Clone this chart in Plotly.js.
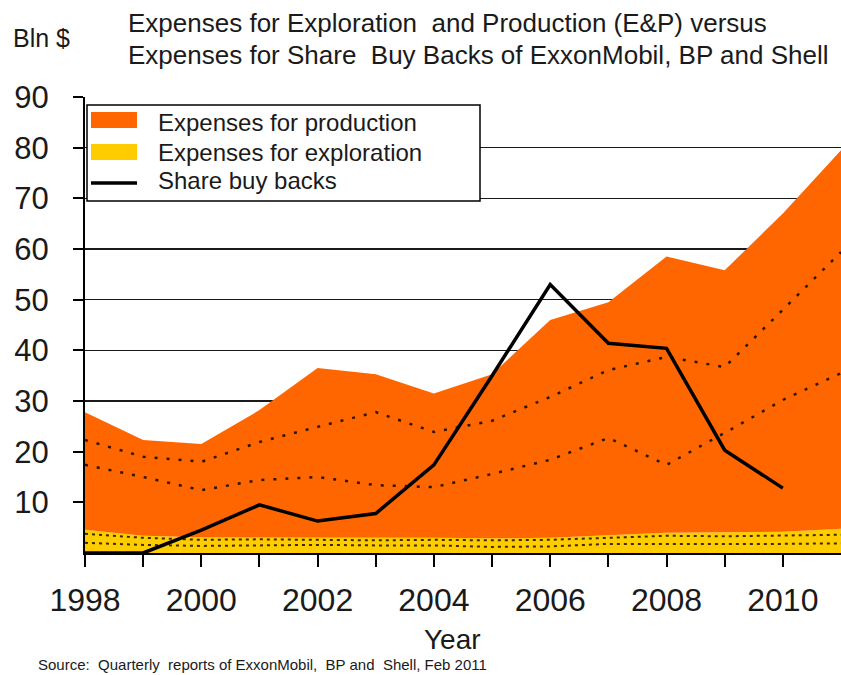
<!DOCTYPE html>
<html>
<head>
<meta charset="utf-8">
<script src="https://cdn.plot.ly/plotly-3.0.1.min.js"></script>
<style>
  html, body { margin: 0; padding: 0; background: #fff; }
  #chart { width: 841px; height: 675px; }
</style>
</head>
<body>
<div id="chart"></div>
<script>
// Expenses for E&P vs share buy backs (ExxonMobil, BP, Shell), Bln $
const years = [1998, 1999, 2000, 2001, 2002, 2003, 2004, 2005, 2006, 2007, 2008, 2009, 2010, 2011];
const exploration = [4.6, 3.4, 3.1, 3.1, 3.0, 3.0, 3.0, 2.9, 3.0, 3.5, 4.0, 4.1, 4.2, 4.8];
const production = [23.2, 18.9, 18.4, 25.1, 33.5, 32.3, 28.5, 32.4, 43.0, 46.0, 54.5, 51.7, 62.8, 74.7];

// dotted company lines inside the production area (stacked levels)
const prodLineUpper = [22.3, 19.0, 18.0, 21.9, 24.9, 27.8, 23.9, 26.1, 30.8, 36.1, 38.7, 36.7, 48.0, 59.4];
const prodLineLower = [17.4, 15.0, 12.4, 14.4, 15.0, 13.4, 13.0, 15.6, 18.4, 22.7, 17.4, 23.7, 30.2, 35.5];
// dotted company lines inside the exploration band
const explLineUpper = [3.8, 3.0, 2.6, 2.7, 2.6, 2.5, 2.6, 2.5, 2.6, 3.0, 3.4, 3.3, 3.5, 3.6];
const explLineLower = [2.0, 1.6, 1.4, 1.5, 1.6, 1.5, 1.5, 1.2, 1.3, 1.8, 1.8, 1.7, 1.8, 1.9];

const buybackYears = [1998, 1999, 2000, 2001, 2002, 2003, 2004, 2005, 2006, 2007, 2008, 2009, 2010];
const buybacks = [0, 0, 4.5, 9.5, 6.3, 7.8, 17.4, 35.0, 53.0, 41.4, 40.4, 20.3, 12.8];

const yTicks = [10, 20, 30, 40, 50, 60, 70, 80, 90];
const xTickLabels = years.slice(0, 13).map(y => (y % 2 === 0 ? String(y) : ""));

const legendLabels = ["Expenses for production", "Expenses for exploration", "Share buy backs"];

const ORANGE = "#FF6600";
const YELLOW = "#FFCC00";
const FONT = "Arial, 'Liberation Sans', sans-serif";
const INK = "#1a1a1a";

// pixel helpers for the hand-made legend box (plot area 85..841 x 97..553)
const px = x => (x - 85) / 756;
const py = y => (553 - y) / 456;

const traces = [
  {
    x: years, y: exploration, type: "scatter", mode: "lines",
    stackgroup: "ep", fillcolor: YELLOW, line: { width: 0, color: YELLOW },
    name: legendLabels[1], showlegend: false
  },
  {
    x: years, y: production, type: "scatter", mode: "lines",
    stackgroup: "ep", fillcolor: ORANGE, line: { width: 0, color: ORANGE },
    name: legendLabels[0], showlegend: false
  },
  {
    x: years, y: prodLineUpper, type: "scatter", mode: "lines",
    line: { color: "#2b1400", width: 2.5, dash: "3px,9px" }, showlegend: false
  },
  {
    x: years, y: prodLineLower, type: "scatter", mode: "lines",
    line: { color: "#2b1400", width: 2.5, dash: "3px,9px" }, showlegend: false
  },
  {
    x: years, y: explLineUpper, type: "scatter", mode: "lines",
    line: { color: "#3a2a00", width: 2, dash: "3px,4px" }, showlegend: false
  },
  {
    x: years, y: explLineLower, type: "scatter", mode: "lines",
    line: { color: "#3a2a00", width: 2, dash: "3px,4px" }, showlegend: false
  },
  {
    x: buybackYears, y: buybacks, type: "scatter", mode: "lines",
    line: { color: "#000", width: 3.5 },
    name: legendLabels[2], showlegend: false
  }
];

const layout = {
  width: 841,
  height: 675,
  margin: { l: 85, r: 0, t: 97, b: 122 },
  paper_bgcolor: "#fff",
  plot_bgcolor: "#fff",
  font: { family: FONT, color: INK },
  showlegend: false,
  xaxis: {
    range: [1998, 2011],
    tickvals: years.slice(0, 13),
    ticktext: xTickLabels,
    ticks: "outside", ticklen: 12, tickwidth: 2, tickcolor: "#000",
    ticklabelstandoff: 6,
    tickfont: { family: FONT, size: 32, color: INK },
    showline: true, linecolor: "#000", linewidth: 2,
    showgrid: false, zeroline: false
  },
  yaxis: {
    range: [0, 90],
    tickvals: yTicks,
    ticks: "outside", ticklen: 10, tickwidth: 2, tickcolor: "#000",
    ticklabelstandoff: 18,
    tickfont: { family: FONT, size: 31, color: INK },
    showline: true, linecolor: "#000", linewidth: 2,
    showgrid: true, gridcolor: "#1a1a1a", gridwidth: 1.5,
    zeroline: false
  },
  shapes: [
    { type: "rect", xref: "paper", yref: "paper", layer: "above",
      x0: px(87), x1: px(480), y0: py(201), y1: py(105),
      fillcolor: "#fff", line: { color: "#000", width: 1.5 } },
    { type: "rect", xref: "paper", yref: "paper", layer: "above",
      x0: px(91), x1: px(137), y0: py(128), y1: py(112),
      fillcolor: ORANGE, line: { width: 0 } },
    { type: "rect", xref: "paper", yref: "paper", layer: "above",
      x0: px(91), x1: px(137), y0: py(160), y1: py(144),
      fillcolor: YELLOW, line: { width: 0 } },
    { type: "line", xref: "paper", yref: "paper", layer: "above",
      x0: px(91), x1: px(137), y0: py(183), y1: py(183),
      line: { color: "#000", width: 3.5 } }
  ],
  annotations: [
    { text: "Expenses for Exploration  and Production (E&P) versus",
      xref: "paper", yref: "paper", x: px(126), y: py(23),
      xanchor: "left", yanchor: "middle", showarrow: false,
      font: { family: FONT, size: 26, color: INK } },
    { text: "Expenses for Share  Buy Backs of ExxonMobil, BP and Shell",
      xref: "paper", yref: "paper", x: px(126), y: py(55),
      xanchor: "left", yanchor: "middle", showarrow: false,
      font: { family: FONT, size: 26, color: INK } },
    { text: legendLabels[0], xref: "paper", yref: "paper", x: px(156), y: py(123),
      xanchor: "left", yanchor: "middle", showarrow: false,
      font: { family: FONT, size: 24, color: INK } },
    { text: legendLabels[1], xref: "paper", yref: "paper", x: px(156), y: py(152),
      xanchor: "left", yanchor: "middle", showarrow: false,
      font: { family: FONT, size: 24, color: INK } },
    { text: legendLabels[2], xref: "paper", yref: "paper", x: px(156), y: py(180),
      xanchor: "left", yanchor: "middle", showarrow: false,
      font: { family: FONT, size: 24, color: INK } },
    { text: "Bln $", xref: "paper", yref: "paper", x: px(11), y: py(38),
      xanchor: "left", yanchor: "middle", showarrow: false,
      font: { family: FONT, size: 25, color: INK } },
    { text: "Year", xref: "paper", yref: "paper", x: px(452), y: py(639),
      xanchor: "center", yanchor: "middle", showarrow: false,
      font: { family: FONT, size: 28, color: INK } },
    { text: "Source:  Quarterly  reports of ExxonMobil,  BP and  Shell, Feb 2011",
      xref: "paper", yref: "paper", x: px(36), y: py(664),
      xanchor: "left", yanchor: "middle", showarrow: false,
      font: { family: FONT, size: 15, color: INK } }
  ]
};

Plotly.newPlot("chart", traces, layout, { displayModeBar: false, staticPlot: true });
</script>
</body>
</html>
